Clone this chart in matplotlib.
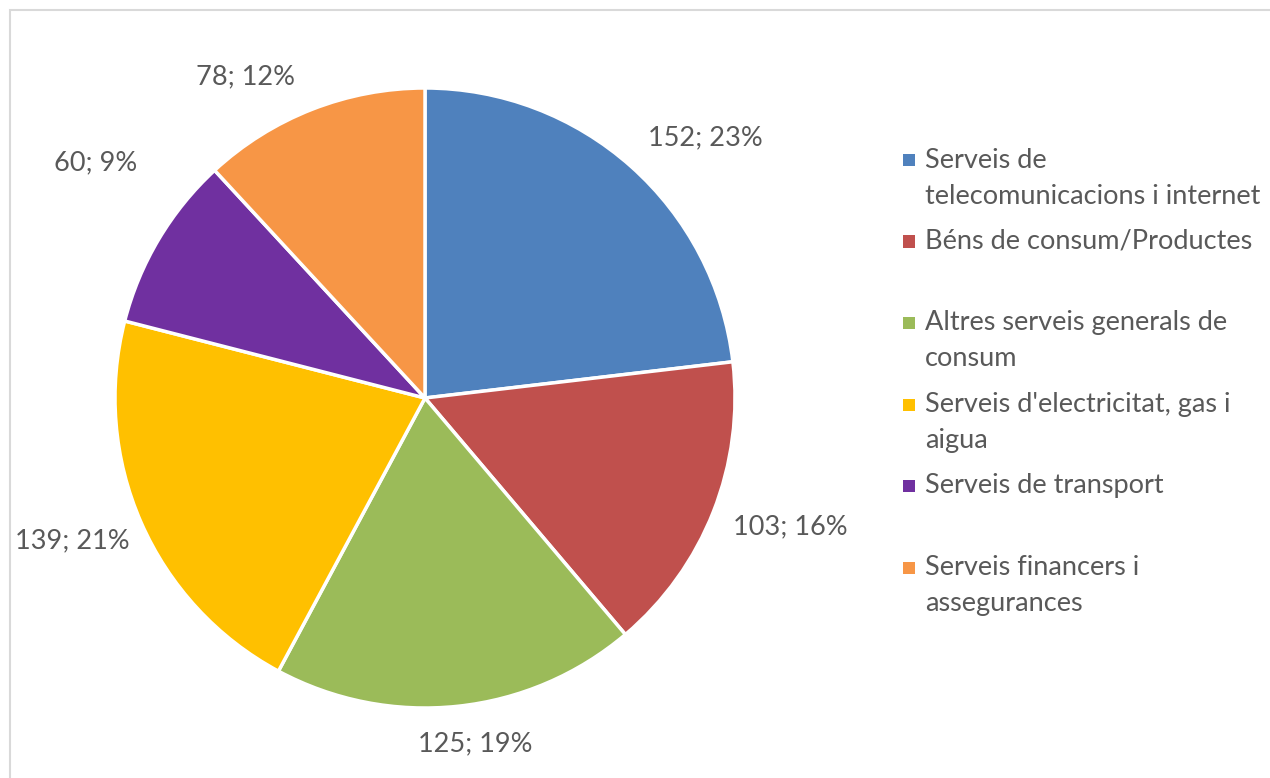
import numpy as np
import matplotlib.pyplot as plt
from matplotlib.patches import Rectangle

categories = ["Serveis de\ntelecomunicacions i internet",
              "Béns de consum/Productes",
              "Altres serveis generals de\nconsum",
              "Serveis d'electricitat, gas i\naigua",
              "Serveis de transport",
              "Serveis financers i\nassegurances"]
values = [152, 103, 125, 139, 60, 78]
colors = ["#4F81BD", "#C0504D", "#9BBB59", "#FFC000", "#7030A0", "#F79646"]

plt.rcParams['font.family'] = ['Lato', 'DejaVu Sans']
txt_col = "#595959"

W, H = 1270, 778
fig = plt.figure(figsize=(W / 100, H / 100), dpi=100)

# border (only top and left visible in the reference)
fig.patches.append(Rectangle((10 / W, -0.1), 1.2, 1 - 10 / H + 0.1, transform=fig.transFigure,
                             fill=False, edgecolor="#d9d9d9", linewidth=1.5))

cx, cy, r = 425, 398, 310
ax = fig.add_axes([(cx - r) / W, 1 - (cy + r) / H, 2 * r / W, 2 * r / H])
wedges, _ = ax.pie(values, colors=colors, startangle=90, counterclock=False, radius=1,
                   wedgeprops=dict(edgecolor="white", linewidth=2.5))
ax.set_xlim(-1, 1)
ax.set_ylim(-1, 1)
ax.set_aspect("equal")
ax.axis("off")

total = sum(values)
# label distance and angle shift from the wedge middle (degrees)
label_r = [1.235, 1.25, 1.126, 1.226, 1.306, 1.187]
label_shift = [-5.5, 2.1, 2.3, -1.7, -4.7, 7.9]
for w, v, lr, sh in zip(wedges, values, label_r, label_shift):
    ang = np.deg2rad((w.theta1 + w.theta2) / 2 + sh)
    pct = round(100 * v / total)
    ax.text(lr * np.cos(ang), lr * np.sin(ang), f"{v}; {pct}%", ha="center", va="center",
            fontsize=19.5, color=txt_col, clip_on=False)

# legend
y0 = 160
slot = 81.5
line_h = 36
for i, (lab, c) in enumerate(zip(categories, colors)):
    yt = y0 + i * slot
    fig.patches.append(Rectangle((903 / W, 1 - (yt + 6) / H), 12 / W, 12 / H,
                                 transform=fig.transFigure, facecolor=c, edgecolor="none"))
    for k, line in enumerate(lab.split("\n")):
        fig.text(925 / W, 1 - (yt + k * line_h) / H, line, ha="left", va="center",
                 fontsize=19.5, color=txt_col)

fig.savefig("out.png", dpi=100)
